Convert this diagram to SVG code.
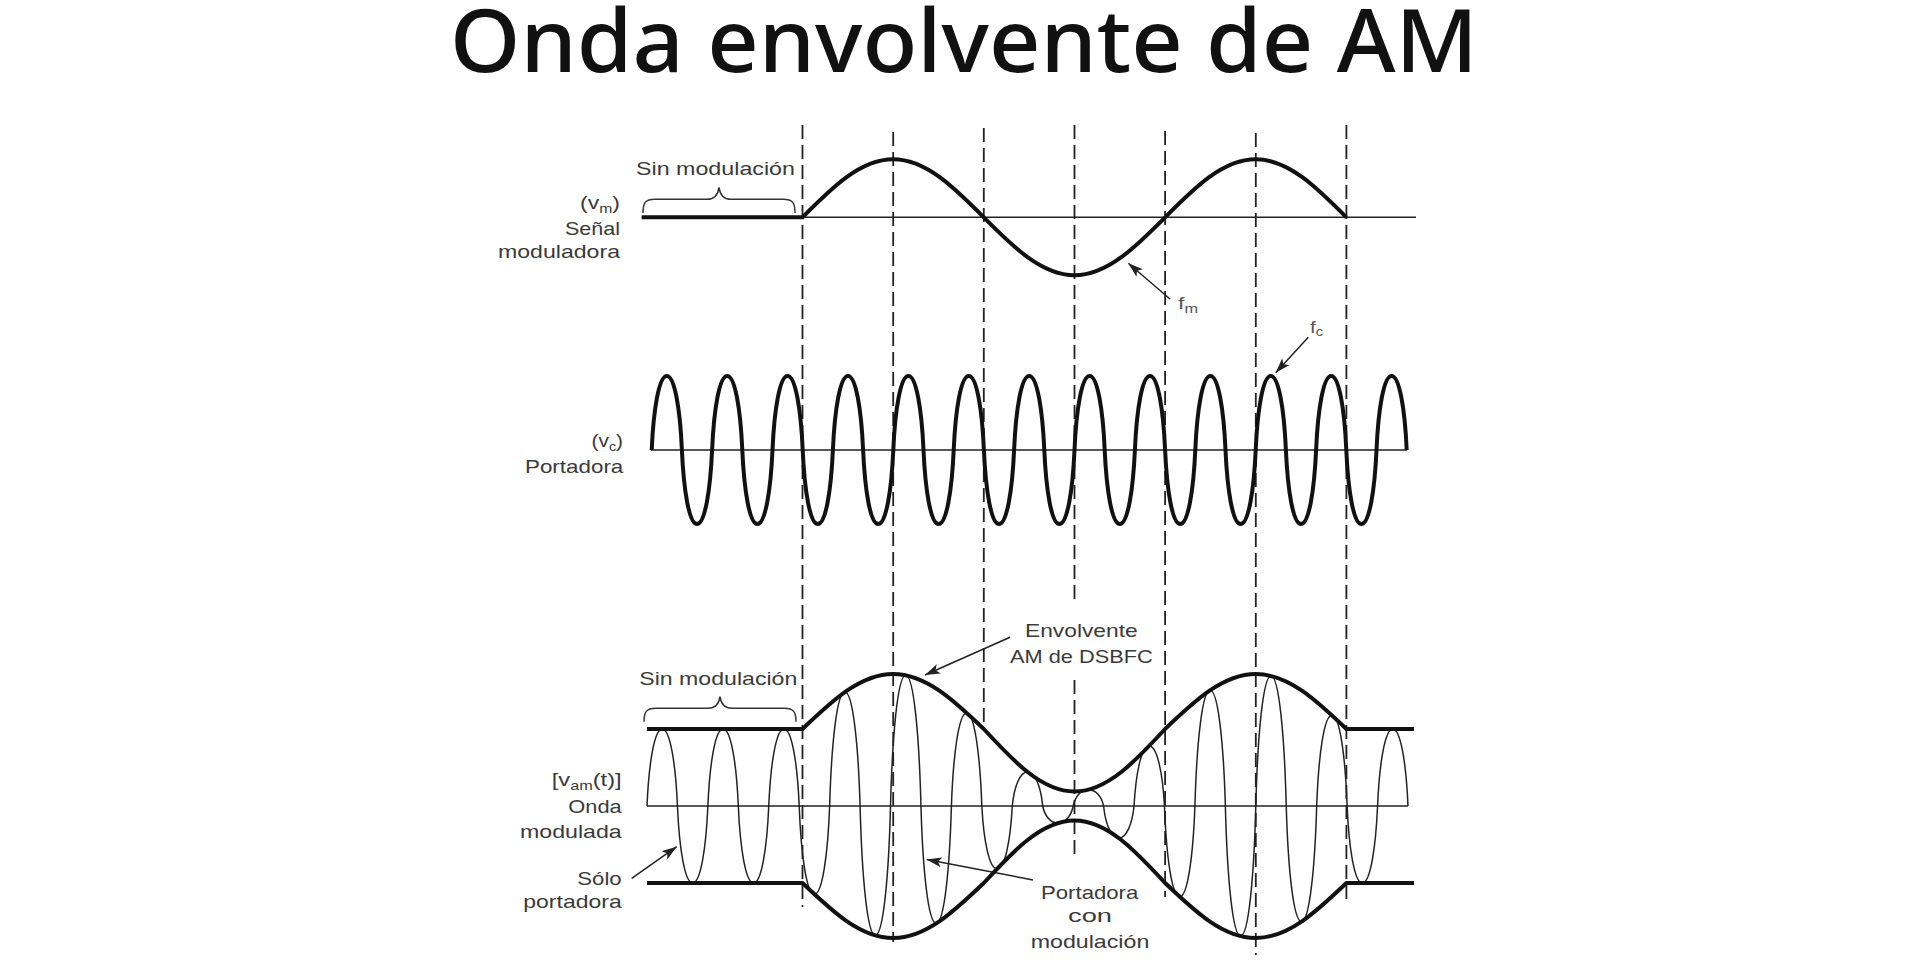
<svg xmlns="http://www.w3.org/2000/svg" width="1919" height="965" viewBox="0 0 1919 965">
<style>
.lbl{font-family:"Liberation Sans",Arial,sans-serif;font-size:19px;fill:#3a3a3a}
.flbl{font-family:"Liberation Sans",Arial,sans-serif;font-size:17px;fill:#555}
.thick{fill:none;stroke:#111;stroke-width:4;stroke-linejoin:round;stroke-linecap:butt}
.thin{fill:none;stroke:#222;stroke-width:1.5}
.axis{fill:none;stroke:#222;stroke-width:1.6}
.dash{fill:none;stroke:#222;stroke-width:1.8;stroke-dasharray:14 6}
.arrow{fill:none;stroke:#222;stroke-width:1.5;marker-end:url(#ah)}
.brace{fill:none;stroke:#333;stroke-width:1.5}
</style>
<defs>
<marker id="ah" markerUnits="userSpaceOnUse" markerWidth="15" markerHeight="10" viewBox="0 0 15 10" refX="15" refY="5" orient="auto">
<path d="M0,0 L15,5 L0,10 L3.5,5 z" fill="#222"/>
</marker>
<path id="envTop" d="M647,729 H802.5 c29.56,-28.18 57.84,-55 90.65,-55 c32.81,0 61.09,26.82 90.65,55 c29.56,32.02 57.84,62.5 90.65,62.5 c32.81,0 61.09,-30.48 90.65,-62.5 c29.56,-28.18 57.84,-55 90.65,-55 c32.81,0 61.09,26.82 90.65,55 H1414"/>
</defs>
<rect width="1919" height="965" fill="#fff"/>

<g id="title">
<text x="450" y="72" font-family="'Noto Sans','Open Sans',sans-serif" font-size="87" font-weight="500" fill="#111" textLength="1028" lengthAdjust="spacingAndGlyphs">Onda envolvente de AM</text>
</g>

<g id="connectors">
<g id="guides" class="dash">
<line x1="802.5" y1="125" x2="802.5" y2="907"/>
<line x1="893.2" y1="132" x2="893.2" y2="942"/>
<line x1="983.8" y1="128" x2="983.8" y2="727"/>
<line x1="1074.5" y1="125" x2="1074.5" y2="603"/>
<line x1="1074.5" y1="680" x2="1074.5" y2="858"/>
<line x1="1165.1" y1="131" x2="1165.1" y2="897"/>
<line x1="1255.8" y1="133" x2="1255.8" y2="955"/>
<line x1="1346.4" y1="125" x2="1346.4" y2="905"/>
</g>
<g id="arrows">
<line class="arrow" x1="1170" y1="299" x2="1128.3" y2="263.3"/>
<line class="arrow" x1="1308.3" y1="337.3" x2="1275.7" y2="372.7"/>
<line class="arrow" x1="1010" y1="637.3" x2="925" y2="675"/>
<line class="arrow" x1="1033" y1="880" x2="926.7" y2="859.5"/>
<line class="arrow" x1="631.7" y1="878.3" x2="676.7" y2="846.7"/>
</g>
</g>

<g id="modulating-signal">
<line class="axis" x1="641.7" y1="217.3" x2="1416" y2="217.3"/>
<path class="thick" d="M641.7,217.3 H802.5 c29.56,-29.71 57.84,-58 90.65,-58 c32.81,0 61.09,28.29 90.65,58 c29.56,29.71 57.84,58 90.65,58 c32.81,0 61.09,-28.29 90.65,-58 c29.56,-29.71 57.84,-58 90.65,-58 c32.81,0 61.09,28.29 90.65,58"/>
<path class="brace" d="M643,213 C643,203 645,199.3 655,199.3 L707,199.3 C714,199.3 718,195 719,187.3 C720,195 724,199.3 731,199.3 L783,199.3 C793,199.3 795,203 795,213"/>
<text class="lbl" x="636" y="175" textLength="159" lengthAdjust="spacingAndGlyphs">Sin modulación</text>
<text class="lbl" x="580" y="208.5" textLength="40" lengthAdjust="spacingAndGlyphs">(v<tspan font-size="13" dy="4">m</tspan><tspan dy="-4">)</tspan></text>
<text class="lbl" x="565" y="235" textLength="55" lengthAdjust="spacingAndGlyphs">Señal</text>
<text class="lbl" x="498" y="258.3" textLength="122" lengthAdjust="spacingAndGlyphs">moduladora</text>
<text class="flbl" x="1178" y="309" textLength="20" lengthAdjust="spacingAndGlyphs">f<tspan font-size="12" dy="4">m</tspan></text>
</g>

<g id="carrier">
<line class="axis" x1="651" y1="450" x2="1407" y2="450"/>
<path class="thick" d="M651.7,450 c1.81,-40.7 7.25,-74 15.1,-74 s13.29,33.3 15.1,74 c1.81,40.7 7.25,74 15.1,74 s13.29,-33.3 15.1,-74 c1.81,-40.7 7.25,-74 15.1,-74 s13.29,33.3 15.1,74 c1.81,40.7 7.25,74 15.1,74 s13.29,-33.3 15.1,-74 c1.81,-40.7 7.25,-74 15.1,-74 s13.29,33.3 15.1,74 c1.81,40.7 7.25,74 15.1,74 s13.29,-33.3 15.1,-74 c1.81,-40.7 7.25,-74 15.1,-74 s13.29,33.3 15.1,74 c1.81,40.7 7.25,74 15.1,74 s13.29,-33.3 15.1,-74 c1.81,-40.7 7.25,-74 15.1,-74 s13.29,33.3 15.1,74 c1.81,40.7 7.25,74 15.1,74 s13.29,-33.3 15.1,-74 c1.81,-40.7 7.25,-74 15.1,-74 s13.29,33.3 15.1,74 c1.81,40.7 7.25,74 15.1,74 s13.29,-33.3 15.1,-74 c1.81,-40.7 7.25,-74 15.1,-74 s13.29,33.3 15.1,74 c1.81,40.7 7.25,74 15.1,74 s13.29,-33.3 15.1,-74 c1.81,-40.7 7.25,-74 15.1,-74 s13.29,33.3 15.1,74 c1.81,40.7 7.25,74 15.1,74 s13.29,-33.3 15.1,-74 c1.81,-40.7 7.25,-74 15.1,-74 s13.29,33.3 15.1,74 c1.81,40.7 7.25,74 15.1,74 s13.29,-33.3 15.1,-74 c1.81,-40.7 7.25,-74 15.1,-74 s13.29,33.3 15.1,74 c1.81,40.7 7.25,74 15.1,74 s13.29,-33.3 15.1,-74 c1.81,-40.7 7.25,-74 15.1,-74 s13.29,33.3 15.1,74 c1.81,40.7 7.25,74 15.1,74 s13.29,-33.3 15.1,-74 c1.81,-40.7 7.25,-74 15.1,-74 s13.29,33.3 15.1,74 c1.81,40.7 7.25,74 15.1,74 s13.29,-33.3 15.1,-74 c1.81,-40.7 7.25,-74 15.1,-74 s13.29,33.3 15.1,74"/>
<text class="lbl" x="591.5" y="446.5" textLength="31.5" lengthAdjust="spacingAndGlyphs">(v<tspan font-size="13" dy="4">c</tspan><tspan dy="-4">)</tspan></text>
<text class="lbl" x="525" y="473.3" textLength="98.3" lengthAdjust="spacingAndGlyphs">Portadora</text>
<text class="flbl" x="1310" y="333" textLength="13" lengthAdjust="spacingAndGlyphs">f<tspan font-size="12" dy="3">c</tspan></text>
</g>

<g id="modulated-wave">
<line class="axis" x1="647" y1="806" x2="1408" y2="806"/>
<path class="thin" d="M647,806 c1.83,-42.35 7.31,-77 15.22,-77 s13.39,34.65 15.22,77 c1.83,42.35 7.31,77 15.22,77 s13.39,-34.65 15.22,-77 c1.83,-42.35 7.31,-77 15.22,-77 s13.39,34.65 15.22,77 c1.83,42.35 7.31,77 15.22,77 s13.39,-34.65 15.22,-77 c1.83,-42.35 7.31,-77 15.22,-77 s13.39,34.65 15.22,77 c1.83,48.57 7.31,88.3 15.22,88.3 s13.39,-39.74 15.22,-88.3 c1.83,-62.65 7.31,-113.9 15.22,-113.9 s13.39,51.26 15.22,113.9 c1.83,71.17 7.31,129.4 15.22,129.4 s13.39,-58.23 15.22,-129.4 c1.83,-71.89 7.31,-130.7 15.22,-130.7 s13.39,58.82 15.22,130.7 c1.83,64.57 7.31,117.4 15.22,117.4 s13.39,-52.83 15.22,-117.4 c1.83,-51.21 7.31,-93.1 15.22,-93.1 s13.39,41.9 15.22,93.1 c1.83,34.54 7.31,62.8 15.22,62.8 s13.39,-28.26 15.22,-62.8 c1.83,-18.73 7.31,-34.05 15.22,-34.05 s13.39,15.32 15.22,34.05 c1.83,9.3 7.31,16.9 15.22,16.9 s13.39,-7.61 15.22,-16.9 c1.83,-8.97 7.31,-16.3 15.22,-16.3 s13.39,7.34 15.22,16.3 c1.83,17.6 7.31,32 15.22,32 s13.39,-14.4 15.22,-32 c1.83,-33.06 7.31,-60.1 15.22,-60.1 s13.39,27.05 15.22,60.1 c1.83,49.94 7.31,90.8 15.22,90.8 s13.39,-40.86 15.22,-90.8 c1.83,-63.64 7.31,-115.7 15.22,-115.7 s13.39,52.07 15.22,115.7 c1.83,71.56 7.31,130.1 15.22,130.1 s13.39,-58.55 15.22,-130.1 c1.83,-71.56 7.31,-130.1 15.22,-130.1 s13.39,58.55 15.22,130.1 c1.83,63.58 7.31,115.6 15.22,115.6 s13.39,-52.02 15.22,-115.6 c1.83,-49.89 7.31,-90.7 15.22,-90.7 s13.39,40.82 15.22,90.7 c1.83,42.35 7.31,77 15.22,77 s13.39,-34.65 15.22,-77 c1.83,-42.35 7.31,-77 15.22,-77 s13.39,34.65 15.22,77"/>
<use href="#envTop" class="thick"/>
<use href="#envTop" class="thick" transform="matrix(1,0,0,-1,0,1612)"/>
<path class="brace" d="M644,721.7 C644,712 646,708.3 656,708.3 L708,708.3 C715,708.3 719,704 720,696.7 C721,704 725,708.3 732,708.3 L784,708.3 C794,708.3 796,712 796,721.7"/>
<text class="lbl" x="639.3" y="685" textLength="158" lengthAdjust="spacingAndGlyphs">Sin modulación</text>
<text class="lbl" x="551.7" y="786" textLength="70" lengthAdjust="spacingAndGlyphs">[v<tspan font-size="13" dy="4">am</tspan><tspan dy="-4">(t)]</tspan></text>
<text class="lbl" x="568.3" y="813.3" textLength="53.4" lengthAdjust="spacingAndGlyphs">Onda</text>
<text class="lbl" x="520" y="838.3" textLength="101.7" lengthAdjust="spacingAndGlyphs">modulada</text>
<text class="lbl" x="577.3" y="885" textLength="44.4" lengthAdjust="spacingAndGlyphs">Sólo</text>
<text class="lbl" x="523.3" y="908" textLength="98.4" lengthAdjust="spacingAndGlyphs">portadora</text>
<text class="lbl" x="1025" y="637.3" textLength="112.7" lengthAdjust="spacingAndGlyphs">Envolvente</text>
<text class="lbl" x="1010" y="663.3" textLength="142.7" lengthAdjust="spacingAndGlyphs">AM de DSBFC</text>
<text class="lbl" x="1041" y="899.3" textLength="97.3" lengthAdjust="spacingAndGlyphs">Portadora</text>
<text class="lbl" x="1068" y="921.7" textLength="44" lengthAdjust="spacingAndGlyphs">con</text>
<text class="lbl" x="1030.7" y="948.3" textLength="118.6" lengthAdjust="spacingAndGlyphs">modulación</text>
</g>
</svg>
